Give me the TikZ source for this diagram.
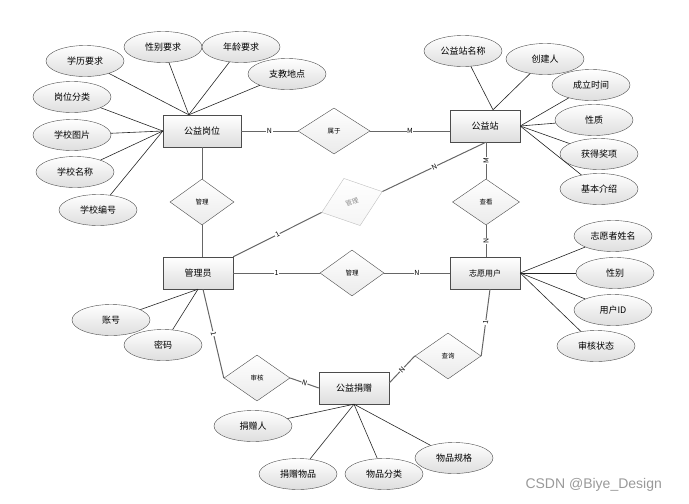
\documentclass[tikz,border=0pt]{standalone}
\usepackage{fontspec}
\setmainfont{Noto Sans CJK SC}
\newfontfamily\markfont{Liberation Sans}
\usetikzlibrary{shapes.geometric}

\tikzset{
  every entity/.style={
    rectangle,
    draw=black!70,
    top color=white,
    bottom color=black!13,
    minimum width=70pt,
    minimum height=32pt,
    font=\fontsize{9}{11}\selectfont
  },
  every attr/.style={
    ellipse,
    draw=black!70,
    top color=white,
    bottom color=black!13,
    minimum width=78pt,
    minimum height=31pt,
    inner sep=0pt,
    font=\fontsize{9}{11}\selectfont
  },
  every rel/.style={
    diamond,
    draw=black!70,
    top color=white,
    bottom color=black!8,
    minimum width=66pt,
    minimum height=46pt,
    inner sep=0pt,
    font=\fontsize{6.5}{8}\selectfont
  },
  rel faded/.style={
    draw=black!25,
    top color=white,
    bottom color=black!4,
    text=black!45,
    rotate=19
  },
  attr line/.style={draw=black!85, line width=0.6pt},
  rel line/.style={draw=black!60, line width=1pt},
  card/.style={fill=white, inner sep=0.5pt, font=\fontsize{7}{8}\selectfont},
}

\begin{document}
\begin{tikzpicture}[x=1pt, y=-1pt]
  \useasboundingbox (0,0) rectangle (689,504);

  % entities
  \node [every entity, minimum width=78pt] (gw) at (202,131) {公益岗位};
  \node [every entity] (gz) at (485,126) {公益站};
  \node [every entity] (gl) at (198,273) {管理员};
  \node [every entity, font=\fontsize{8}{10}\selectfont] (zy) at (485,273) {志愿用户};
  \node [every entity] (gj) at (354,388) {公益捐赠};

  % relations
  \foreach \n/\t/\x/\y/\w in {sy/属于/334/131/72, gwgl/管理/202/202/64, ck/查看/486/202/67,
      glzy/管理/352/273/64, sh/审核/257/378/66, cx/查询/448/356/66}
    \node [every rel, minimum width=\w pt] (\n) at (\x,\y) {\t};
  \node [every rel, rel faded, minimum width=64pt, minimum height=50pt] (glgz) at (352,202) {管理};

  % attributes
  \foreach \t/\x/\y [count=\i] in {学历要求/85/61, 性别要求/163/47, 年龄要求/241/47, 支教地点/287/74} {
    \node [every attr] (gw-a\i) at (\x,\y) {\t};
    \draw [attr line] (gw-a\i) -- ([xshift=26pt]gw.north west);
  }
  \foreach \t/\x/\y [count=\i] in {岗位分类/72/97, 学校图片/72/135, 学校名称/75/172, 学校编号/98/210} {
    \node [every attr] (gw-b\i) at (\x,\y) {\t};
    \draw [attr line] (gw-b\i) -- (gw.west);
  }
  \foreach \t/\x/\y [count=\i] in {公益站名称/463/51, 创建人/545/59} {
    \node [every attr] (gz-a\i) at (\x,\y) {\t};
    \draw [attr line] (gz-a\i) -- ([xshift=8pt]gz.north);
  }
  \foreach \t/\x/\y [count=\i] in {成立时间/591/85, 性质/594/120, 获得奖项/599/154, 基本介绍/599/189} {
    \node [every attr] (gz-b\i) at (\x,\y) {\t};
    \draw [attr line] (gz-b\i) -- (gz.east);
  }
  \foreach \t/\x/\y [count=\i] in {志愿者姓名/613/236, 性别/615/273, 用户ID/613/310, 审核状态/596/346} {
    \node [every attr] (zy-a\i) at (\x,\y) {\t};
    \draw [attr line] (zy-a\i) -- (zy.east);
  }
  \foreach \t/\x/\y [count=\i] in {账号/111/320, 密码/163/345} {
    \node [every attr] (gl-a\i) at (\x,\y) {\t};
    \draw [attr line] (gl-a\i) -- (gl.south);
  }
  \foreach \t/\x/\y [count=\i] in {捐赠人/253/426, 捐赠物品/298/474, 物品分类/384/474, 物品规格/454/458} {
    \node [every attr] (gj-a\i) at (\x,\y) {\t};
    \draw [attr line] (gj-a\i) -- (gj.south);
  }

  % connections
  \draw [rel line] (gw) -- node [card] {N} (sy);
  \draw [rel line] (sy) -- node [card] {M} (sy.east -| gz.west);
  \draw [rel line] (ck.north |- gz.south) -- node [card, rotate=90] {M} (ck.north);
  \draw [rel line] (ck.south) -- node [card, rotate=90] {N} (ck.south |- zy.north);
  \draw [rel line] (gwgl.north |- gw.south) -- (gwgl.north);
  \draw [rel line] (gwgl.south) -- (gwgl.south |- gl.north);
  \draw [rel line] (gl.north east) -- node [card, sloped] {1} (glgz.west);
  \draw [rel line] (glgz.east) -- node [card, sloped] {N} (ck.north |- gz.south);
  \draw [rel line] (gl) -- node [card] {1} (glzy);
  \draw [rel line] (glzy) -- node [card] {N} (zy);
  \draw [rel line] ([xshift=5pt]gl.south) -- node [card, sloped] {1} (sh.west);
  \draw [rel line] (sh.east) -- node [card, sloped] {N} (gj.west);
  \draw [rel line] ([xshift=5pt]zy.south) -- node [card, sloped] {1} (cx.east);
  \draw [rel line] (cx.west) -- node [card, sloped] {N} ([yshift=5pt]gj.east);

  \node [anchor=west, font=\markfont\fontsize{14}{16}\selectfont, text=black!40] (mark) at (522,485) {CSDN @Biye\_Design};
\end{tikzpicture}
\end{document}
